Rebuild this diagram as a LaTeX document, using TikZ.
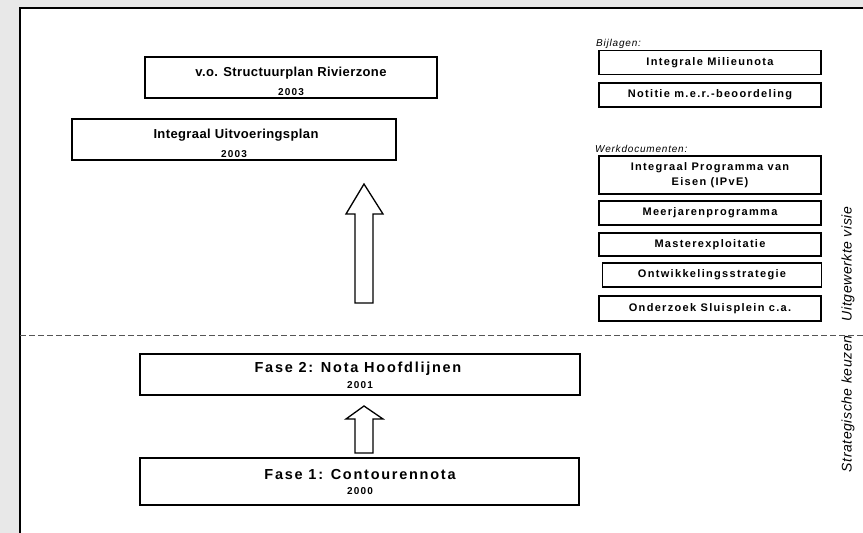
\documentclass[tikz,border=0pt]{standalone}
\usepackage{fontspec}
\setmainfont{Liberation Sans}
\newfontfamily\titlefam[LetterSpace=3]{Liberation Sans}
\newfontfamily\fasefam[LetterSpace=12]{Liberation Sans}
\newfontfamily\yearfam[LetterSpace=12]{Liberation Sans}
\newfontfamily\sidefam[LetterSpace=12]{Liberation Sans}
\newfontfamily\labelfam[LetterSpace=8]{Liberation Sans}
\newfontfamily\rotfam[LetterSpace=4]{Liberation Sans}
\definecolor{bggray}{HTML}{E8E8E8}
\definecolor{dashgray}{HTML}{555555}
\begin{document}
\begin{tikzpicture}[x=1pt,y=-1pt,
  boxstyle/.style={draw=black,line width=1.8pt,fill=white,inner sep=0pt},
  titletext/.style={font=\titlefam\bfseries\fontsize{13}{15}\selectfont,inner sep=0pt},
  fasetext/.style={font=\fasefam\bfseries\fontsize{14.5}{16}\selectfont,inner sep=0pt},
  yeartext/.style={font=\yearfam\bfseries\fontsize{10}{12}\selectfont,inner sep=0pt},
  sidebox/.style={draw=black,line width=1.8pt,fill=white,inner sep=0pt,minimum width=222pt,
     font=\sidefam\bfseries\fontsize{11}{13}\selectfont,align=center},
  labeltext/.style={font=\labelfam\itshape\fontsize{10}{12}\selectfont,inner sep=0pt,anchor=west},
  sidetext/.style={font=\rotfam\itshape\fontsize{14}{16}\selectfont,inner sep=0pt,rotate=90},
  blockarrow/.style={draw=black,line width=1.3pt,fill=white,line join=miter}]
\useasboundingbox (0,0) rectangle (863,533);
\clip (0,0) rectangle (863,533);
\fill[bggray] (0,0) rectangle (863,533);
\draw[line width=2.2pt,fill=white] (20,8) rectangle (880,550);

% main boxes
\node[boxstyle,minimum width=292pt,minimum height=41pt] (vo) at (291,77.5) {};
\node[titletext] (voT) at (291,73.5) {v.o. Structuurplan Rivierzone};
\node[yeartext] (voY) at (291,92) {2003};

\node[boxstyle,minimum width=324pt,minimum height=41pt] (iup) at (234,139.5) {};
\node[titletext] (iupT) at (236,135) {Integraal Uitvoeringsplan};
\node[yeartext] (iupY) at (234,154) {2003};

\node[boxstyle,minimum width=440pt,minimum height=41pt] (f2) at (360,374.5) {};
\node[fasetext] (f2T) at (358,368.5) {Fase 2: Nota Hoofdlijnen};
\node[yeartext] (f2Y) at (360,385.5) {2001};

\node[boxstyle,minimum width=439pt,minimum height=47pt] (f1) at (359.5,481.5) {};
\node[fasetext] (f1T) at (360,474.5) {Fase 1: Contourennota};
\node[yeartext] (f1Y) at (360,491) {2000};

% block arrows
\draw[blockarrow] (364,184) -- (383,214) -- (373,214) -- (373,303) -- (355,303) -- (355,214) -- (346,214) -- cycle;
\draw[blockarrow] (364,406) -- (383,419) -- (373,419) -- (373,453) -- (355,453) -- (355,419) -- (346,419) -- cycle;

% dashed divider
\draw[dashgray,line width=0.8pt,dash pattern=on 6pt off 3pt] (20,335) -- (863,335);

% side labels
\node[labeltext] (bij) at (596,44) {Bijlagen:};
\node[sidebox,minimum height=24pt] (milieu) at (710,62.5) {Integrale Milieunota};
\node[sidebox,minimum height=24pt] (notitie) at (710,95) {Notitie m.e.r.-beoordeling};

\node[labeltext] (werk) at (595,149) {Werkdocumenten:};
\node[sidebox,minimum height=38pt] (ipve) at (710,175) {Integraal Programma van\\[2pt]Eisen (IPvE)};
\node[sidebox,minimum height=24pt] (meer) at (710,213) {Meerjarenprogramma};
\node[sidebox,minimum height=23pt] (master) at (710,244.5) {Masterexploitatie};
\node[sidebox,minimum height=24pt,minimum width=219pt] (ontw) at (712,275) {Ontwikkelingsstrategie};
\node[sidebox,minimum height=25pt] (sluis) at (710,308.5) {Onderzoek Sluisplein c.a.};

% rotated texts
\node[sidetext] (uit) at (848,264) {Uitgewerkte visie};
\node[sidetext] (strat) at (848,404) {Strategische keuzen};
\end{tikzpicture}
\end{document}
